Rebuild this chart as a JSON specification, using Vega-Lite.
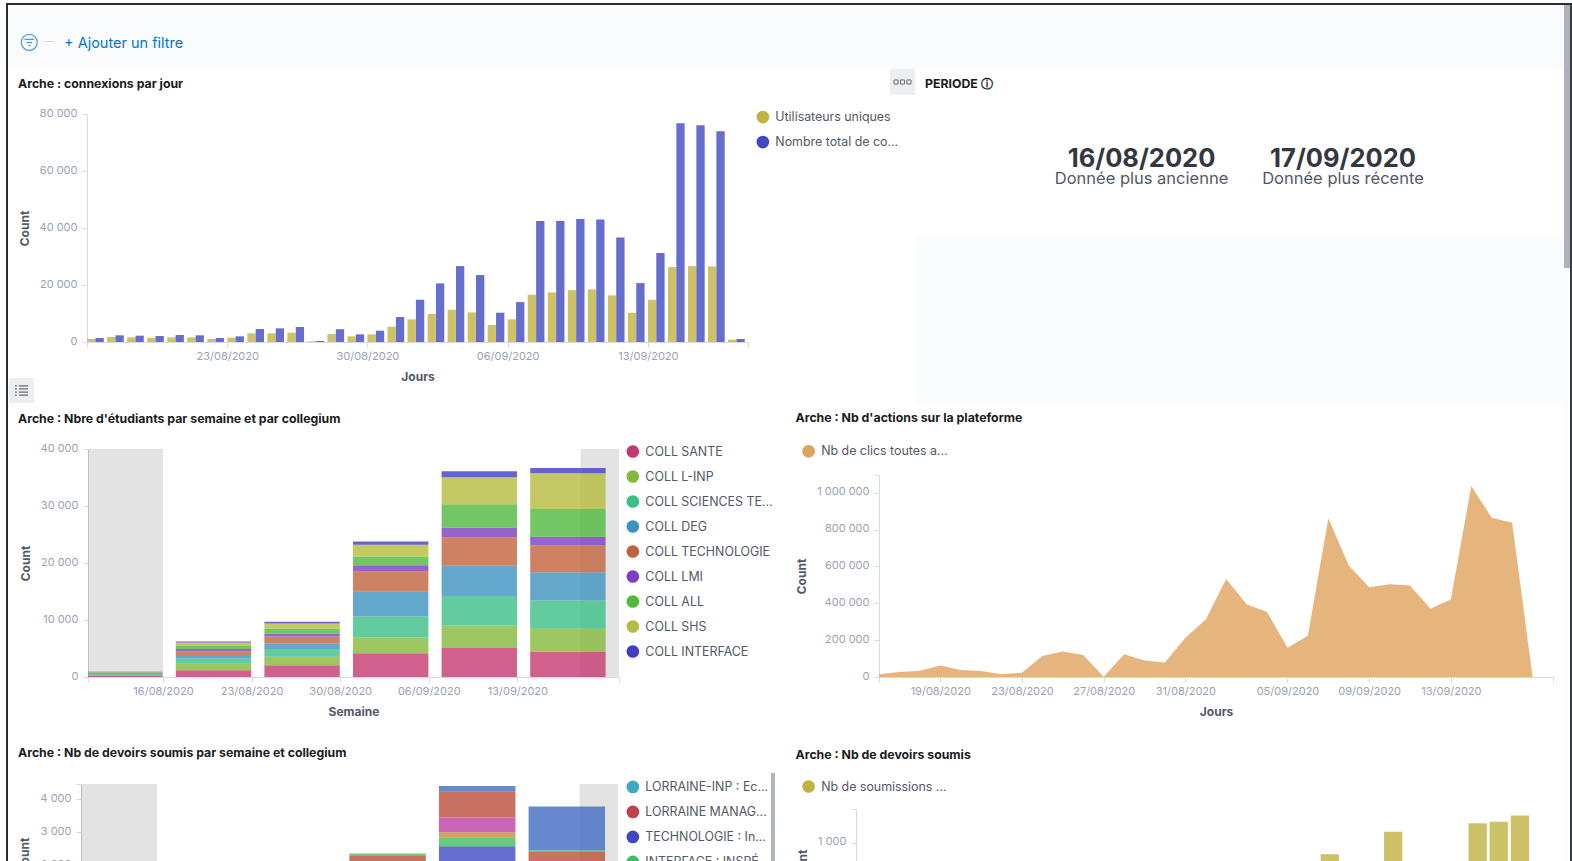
{
"$schema":"https://vega.github.io/schema/vega-lite/v6.json",
"background":"white","padding":0,"autosize":{"type":"pad"},"bounds":"flush","spacing":0,
"resolve":{"scale":{"color":"independent"},"legend":{"color":"independent"}},
"config":{"font":"Inter","view":{"stroke":null},
"title":{"fontSize":12.3,"fontWeight":"bold","color":"#1a1c21","anchor":"start","frame":"group","baseline":"bottom"},
"axis":{"grid":false,"labelColor":"#98a2b3","labelFontSize":11,"labelFont":"Inter","titleColor":"#535966","titleFontSize":12,"titleFontWeight":"bold","domainColor":"#d3dae6","tickColor":"#d3dae6","tickSize":5,"labelPadding":5,"labelOverlap":false,"labelBound":false},
"axisX":{"labelPadding":3,"titlePadding":10},
"axisY":{"titlePadding":8,"labelOffset":-1},
"legend":{"orient":"none","title":null,"symbolType":"circle","symbolSize":161,"symbolOpacity":1,"symbolStrokeWidth":0,"labelFontSize":12.4,"labelColor":"#535966","labelLimit":300,"rowPadding":12,"labelOffset":6,"padding":0}},
"datasets":{
"connexions":[
{"jour":"2020-08-16","serie":"Utilisateurs uniques","n":1050},{"jour":"2020-08-16","serie":"Nombre total de co...","n":1400},
{"jour":"2020-08-17","serie":"Utilisateurs uniques","n":1750},{"jour":"2020-08-17","serie":"Nombre total de co...","n":2340},
{"jour":"2020-08-18","serie":"Utilisateurs uniques","n":1635},{"jour":"2020-08-18","serie":"Nombre total de co...","n":2220},
{"jour":"2020-08-19","serie":"Utilisateurs uniques","n":1520},{"jour":"2020-08-19","serie":"Nombre total de co...","n":2100},
{"jour":"2020-08-20","serie":"Utilisateurs uniques","n":1635},{"jour":"2020-08-20","serie":"Nombre total de co...","n":2450},
{"jour":"2020-08-21","serie":"Utilisateurs uniques","n":1635},{"jour":"2020-08-21","serie":"Nombre total de co...","n":2340},
{"jour":"2020-08-22","serie":"Utilisateurs uniques","n":1050},{"jour":"2020-08-22","serie":"Nombre total de co...","n":1400},
{"jour":"2020-08-23","serie":"Utilisateurs uniques","n":1520},{"jour":"2020-08-23","serie":"Nombre total de co...","n":1990},
{"jour":"2020-08-24","serie":"Utilisateurs uniques","n":3040},{"jour":"2020-08-24","serie":"Nombre total de co...","n":4550},
{"jour":"2020-08-25","serie":"Utilisateurs uniques","n":3040},{"jour":"2020-08-25","serie":"Nombre total de co...","n":4790},
{"jour":"2020-08-26","serie":"Utilisateurs uniques","n":3270},{"jour":"2020-08-26","serie":"Nombre total de co...","n":5260},
{"jour":"2020-08-27","serie":"Utilisateurs uniques","n":230},{"jour":"2020-08-27","serie":"Nombre total de co...","n":350},
{"jour":"2020-08-28","serie":"Utilisateurs uniques","n":2800},{"jour":"2020-08-28","serie":"Nombre total de co...","n":4440},
{"jour":"2020-08-29","serie":"Utilisateurs uniques","n":1990},{"jour":"2020-08-29","serie":"Nombre total de co...","n":2690},
{"jour":"2020-08-30","serie":"Utilisateurs uniques","n":2690},{"jour":"2020-08-30","serie":"Nombre total de co...","n":3970},
{"jour":"2020-08-31","serie":"Utilisateurs uniques","n":5370},{"jour":"2020-08-31","serie":"Nombre total de co...","n":8760},
{"jour":"2020-09-01","serie":"Utilisateurs uniques","n":7940},{"jour":"2020-09-01","serie":"Nombre total de co...","n":14830},
{"jour":"2020-09-02","serie":"Utilisateurs uniques","n":9810},{"jour":"2020-09-02","serie":"Nombre total de co...","n":20560},
{"jour":"2020-09-03","serie":"Utilisateurs uniques","n":11330},{"jour":"2020-09-03","serie":"Nombre total de co...","n":26630},
{"jour":"2020-09-04","serie":"Utilisateurs uniques","n":10400},{"jour":"2020-09-04","serie":"Nombre total de co...","n":23480},
{"jour":"2020-09-05","serie":"Utilisateurs uniques","n":5960},{"jour":"2020-09-05","serie":"Nombre total de co...","n":10280},
{"jour":"2020-09-06","serie":"Utilisateurs uniques","n":7940},{"jour":"2020-09-06","serie":"Nombre total de co...","n":14000},
{"jour":"2020-09-07","serie":"Utilisateurs uniques","n":16590},{"jour":"2020-09-07","serie":"Nombre total de co...","n":42500},
{"jour":"2020-09-08","serie":"Utilisateurs uniques","n":17400},{"jour":"2020-09-08","serie":"Nombre total de co...","n":42500},
{"jour":"2020-09-09","serie":"Utilisateurs uniques","n":18220},{"jour":"2020-09-09","serie":"Nombre total de co...","n":43200},
{"jour":"2020-09-10","serie":"Utilisateurs uniques","n":18450},{"jour":"2020-09-10","serie":"Nombre total de co...","n":43000},
{"jour":"2020-09-11","serie":"Utilisateurs uniques","n":16350},{"jour":"2020-09-11","serie":"Nombre total de co...","n":36700},
{"jour":"2020-09-12","serie":"Utilisateurs uniques","n":10280},{"jour":"2020-09-12","serie":"Nombre total de co...","n":20670},
{"jour":"2020-09-13","serie":"Utilisateurs uniques","n":14830},{"jour":"2020-09-13","serie":"Nombre total de co...","n":31190},
{"jour":"2020-09-14","serie":"Utilisateurs uniques","n":26280},{"jour":"2020-09-14","serie":"Nombre total de co...","n":76740},
{"jour":"2020-09-15","serie":"Utilisateurs uniques","n":26630},{"jour":"2020-09-15","serie":"Nombre total de co...","n":76040},
{"jour":"2020-09-16","serie":"Utilisateurs uniques","n":26510},{"jour":"2020-09-16","serie":"Nombre total de co...","n":73930},
{"jour":"2020-09-17","serie":"Utilisateurs uniques","n":820},{"jour":"2020-09-17","serie":"Nombre total de co...","n":1050}],
"etudiants":[
{"s":"2020-08-09","c":"COLL SANTE","o":1,"n":234},{"s":"2020-08-09","c":"COLL L-INP","o":2,"n":117},{"s":"2020-08-09","c":"COLL SCIENCES TE...","o":3,"n":117},{"s":"2020-08-09","c":"COLL DEG","o":4,"n":100},{"s":"2020-08-09","c":"COLL TECHNOLOGIE","o":5,"n":120},{"s":"2020-08-09","c":"COLL LMI","o":6,"n":50},{"s":"2020-08-09","c":"COLL ALL","o":7,"n":100},{"s":"2020-08-09","c":"COLL SHS","o":8,"n":60},{"s":"2020-08-09","c":"COLL INTERFACE","o":9,"n":30},
{"s":"2020-08-16","c":"COLL SANTE","o":1,"n":1168},{"s":"2020-08-16","c":"COLL L-INP","o":2,"n":1168},{"s":"2020-08-16","c":"COLL SCIENCES TE...","o":3,"n":876},{"s":"2020-08-16","c":"COLL DEG","o":4,"n":467},{"s":"2020-08-16","c":"COLL TECHNOLOGIE","o":5,"n":818},{"s":"2020-08-16","c":"COLL LMI","o":6,"n":409},{"s":"2020-08-16","c":"COLL ALL","o":7,"n":526},{"s":"2020-08-16","c":"COLL SHS","o":8,"n":642},{"s":"2020-08-16","c":"COLL INTERFACE","o":9,"n":175},
{"s":"2020-08-23","c":"COLL SANTE","o":1,"n":2044},{"s":"2020-08-23","c":"COLL L-INP","o":2,"n":1518},{"s":"2020-08-23","c":"COLL SCIENCES TE...","o":3,"n":1343},{"s":"2020-08-23","c":"COLL DEG","o":4,"n":993},{"s":"2020-08-23","c":"COLL TECHNOLOGIE","o":5,"n":1226},{"s":"2020-08-23","c":"COLL LMI","o":6,"n":467},{"s":"2020-08-23","c":"COLL ALL","o":7,"n":876},{"s":"2020-08-23","c":"COLL SHS","o":8,"n":934},{"s":"2020-08-23","c":"COLL INTERFACE","o":9,"n":292},
{"s":"2020-08-30","c":"COLL SANTE","o":1,"n":4146},{"s":"2020-08-30","c":"COLL L-INP","o":2,"n":2803},{"s":"2020-08-30","c":"COLL SCIENCES TE...","o":3,"n":3679},{"s":"2020-08-30","c":"COLL DEG","o":4,"n":4321},{"s":"2020-08-30","c":"COLL TECHNOLOGIE","o":5,"n":3621},{"s":"2020-08-30","c":"COLL LMI","o":6,"n":1051},{"s":"2020-08-30","c":"COLL ALL","o":7,"n":1460},{"s":"2020-08-30","c":"COLL SHS","o":8,"n":2102},{"s":"2020-08-30","c":"COLL INTERFACE","o":9,"n":584},
{"s":"2020-09-06","c":"COLL SANTE","o":1,"n":5081},{"s":"2020-09-06","c":"COLL L-INP","o":2,"n":3971},{"s":"2020-09-06","c":"COLL SCIENCES TE...","o":3,"n":5139},{"s":"2020-09-06","c":"COLL DEG","o":4,"n":5314},{"s":"2020-09-06","c":"COLL TECHNOLOGIE","o":5,"n":5022},{"s":"2020-09-06","c":"COLL LMI","o":6,"n":1694},{"s":"2020-09-06","c":"COLL ALL","o":7,"n":4088},{"s":"2020-09-06","c":"COLL SHS","o":8,"n":4730},{"s":"2020-09-06","c":"COLL INTERFACE","o":9,"n":1051},
{"s":"2020-09-13","c":"COLL SANTE","o":1,"n":4438},{"s":"2020-09-13","c":"COLL L-INP","o":2,"n":4030},{"s":"2020-09-13","c":"COLL SCIENCES TE...","o":3,"n":4964},{"s":"2020-09-13","c":"COLL DEG","o":4,"n":4964},{"s":"2020-09-13","c":"COLL TECHNOLOGIE","o":5,"n":4730},{"s":"2020-09-13","c":"COLL LMI","o":6,"n":1460},{"s":"2020-09-13","c":"COLL ALL","o":7,"n":4906},{"s":"2020-09-13","c":"COLL SHS","o":8,"n":6249},{"s":"2020-09-13","c":"COLL INTERFACE","o":9,"n":935}],
"actions":[
{"j":"2020-08-16","n":15000},{"j":"2020-08-17","n":27000},{"j":"2020-08-18","n":34000},{"j":"2020-08-19","n":63000},{"j":"2020-08-20","n":38000},{"j":"2020-08-21","n":32000},{"j":"2020-08-22","n":15000},{"j":"2020-08-23","n":23000},{"j":"2020-08-24","n":114000},{"j":"2020-08-25","n":139000},{"j":"2020-08-26","n":119000},{"j":"2020-08-27","n":2000},{"j":"2020-08-28","n":123000},{"j":"2020-08-29","n":90000},{"j":"2020-08-30","n":79000},{"j":"2020-08-31","n":213000},{"j":"2020-09-01","n":312000},{"j":"2020-09-02","n":532000},{"j":"2020-09-03","n":395000},{"j":"2020-09-04","n":352000},{"j":"2020-09-05","n":159000},{"j":"2020-09-06","n":224000},{"j":"2020-09-07","n":862000},{"j":"2020-09-08","n":605000},{"j":"2020-09-09","n":487000},{"j":"2020-09-10","n":503000},{"j":"2020-09-11","n":496000},{"j":"2020-09-12","n":370000},{"j":"2020-09-13","n":422000},{"j":"2020-09-14","n":1036000},{"j":"2020-09-15","n":864000},{"j":"2020-09-16","n":837000},{"j":"2020-09-17","n":0}],
"devoirs":[
{"s":"2020-08-30","c":"Série E","o":1,"n":2276},{"s":"2020-08-30","c":"INTERFACE : INSPÉ...","o":2,"n":71},
{"s":"2020-09-06","c":"TECHNOLOGIE : In...","o":1,"n":2571},{"s":"2020-09-06","c":"INTERFACE : INSPÉ...","o":2,"n":256},{"s":"2020-09-06","c":"Série C","o":3,"n":173},{"s":"2020-09-06","c":"Série D","o":4,"n":449},{"s":"2020-09-06","c":"Série E","o":5,"n":786},{"s":"2020-09-06","c":"Série F","o":6,"n":173},
{"s":"2020-09-13","c":"Série E","o":1,"n":2398},{"s":"2020-09-13","c":"INTERFACE : INSPÉ...","o":2,"n":51},{"s":"2020-09-13","c":"Série F","o":3,"n":1337}],
"soumis":[{"j":"2020-09-07","n":931},{"j":"2020-09-10","n":1065},{"j":"2020-09-14","n":1115},{"j":"2020-09-15","n":1124},{"j":"2020-09-16","n":1160}],
"hors2":[{"a":"2020-08-10T01:48:00Z","b":"2020-08-16"},{"a":"2020-09-18","b":"2020-09-21T00:40:00Z"}],
"hors4":[{"a":"2020-08-10T01:27:00Z","b":"2020-08-16"},{"a":"2020-09-18","b":"2020-09-21T00:15:00Z"}],
"periode":[{"m":"ancienne","r":"valeur","t":"16/08/2020"},{"m":"ancienne","r":"libelle","t":"Donnée plus ancienne"},{"m":"recente","r":"valeur","t":"17/09/2020"},{"m":"recente","r":"libelle","t":"Donnée plus récente"}],
"un":[{"k":1}]
},
"vconcat":[
{"width":1572,"height":3,"data":{"name":"un"},"mark":{"type":"rect","opacity":0},"encoding":{}},
{"bounds":"flush","spacing":0,"hconcat":[
 {"width":6,"height":2,"data":{"name":"un"},"mark":{"type":"rect","opacity":0},"encoding":{}},
 {"width":1566,"height":2,"view":{"fill":"#2b2d33"},"data":{"name":"un"},"mark":{"type":"rect","opacity":0},"encoding":{}}]},
{"width":1,"height":2,"data":{"name":"un"},"mark":{"type":"rect","opacity":0},"encoding":{}},
{"bounds":"flush","spacing":0,"hconcat":[
 {"width":6,"height":2,"data":{"name":"un"},"mark":{"type":"rect","opacity":0},"encoding":{}},
 {"width":2,"height":856,"view":{"fill":"#2b2d33"},"data":{"name":"un"},"mark":{"type":"rect","opacity":0},"encoding":{}},
 {"width":1556,"height":64,"view":{"fill":"#fafbfd"},"data":{"values":[{"item":"filtre"},{"item":"ajouter"}]},
  "layer":[
   {"transform":[{"filter":"datum.item=='filtre'"}],"mark":{"type":"point","yOffset":5.3,"filled":false,"size":1024,"strokeWidth":1.2,"color":"#0077cc","shape":"M-0.5,0a0.5,0.5 0 1,0 1,0a0.5,0.5 0 1,0 -1,0Z M-0.3,-0.18L0.3,-0.18 M-0.18,0.02L0.18,0.02 M-0.08,0.2L0.08,0.2"},"encoding":{"x":{"field":"item","type":"nominal","axis":null,"scale":{"domain":["filtre","ajouter"],"range":[21.3,115.6],"padding":0}}}},
   {"transform":[{"filter":"datum.item=='filtre'"}],"mark":{"type":"text","text":"—","dy":5.3,"dx":20,"fontSize":10,"color":"#d3dae6"},"encoding":{"x":{"field":"item","type":"nominal","axis":null,"scale":{"domain":["filtre","ajouter"],"range":[21.3,115.6],"padding":0}}}},
   {"transform":[{"filter":"datum.item=='ajouter'"}],"mark":{"type":"text","text":"+ Ajouter un filtre","dy":7,"fontSize":14.5,"color":"#0077cc"},"encoding":{"x":{"field":"item","type":"nominal","axis":null,"scale":{"domain":["filtre","ajouter"],"range":[21.3,115.6],"padding":0}}}}]},
 {"width":6,"height":263,"view":{"fill":"#aeb3ba"},"data":{"name":"un"},"mark":{"type":"rect","opacity":0},"encoding":{}},
 {"width":2,"height":856,"view":{"fill":"#3a3c42"},"data":{"name":"un"},"mark":{"type":"rect","opacity":0},"encoding":{}}]},
{"width":1,"height":64,"data":{"name":"un"},"mark":{"type":"rect","opacity":0},"encoding":{}},
{"bounds":"flush","spacing":0,"hconcat":[
 {"width":890,"height":2,"data":{"name":"un"},"mark":{"type":"rect","opacity":0},"encoding":{}},
 {"width":25,"height":26,"view":{"fill":"#eceef1"},"data":{"name":"un"},"mark":{"type":"point","filled":false,"size":1156,"strokeWidth":1,"color":"#343741","shape":"M-0.5,-0.12h0.24v0.24h-0.24Z M-0.12,-0.12h0.24v0.24h-0.24Z M0.26,-0.12h0.24v0.24h-0.24Z"},"encoding":{}},
 {"width":649,"height":167,"view":{"fill":"white"},"data":{"name":"periode"},
  "title":{"text":"PERIODE ⓘ","dx":10,"offset":-21.5},
  "layer":[
   {"transform":[{"filter":"datum.r=='valeur'"}],"mark":{"type":"text","fontSize":25.5,"fontWeight":"bold","color":"#343741"},"encoding":{"text":{"field":"t"},"x":{"field":"m","type":"nominal","axis":null,"scale":{"domain":["ancienne","recente"],"range":[226.5,428],"padding":0}},"y":{"field":"r","type":"nominal","axis":null,"scale":{"domain":["valeur","libelle"],"range":[90,110],"padding":0}}}},
   {"transform":[{"filter":"datum.r=='libelle'"}],"mark":{"type":"text","fontSize":16.5,"color":"#535966"},"encoding":{"text":{"field":"t"},"x":{"field":"m","type":"nominal","axis":null,"scale":{"domain":["ancienne","recente"],"range":[226.5,428],"padding":0}},"y":{"field":"r","type":"nominal","axis":null,"scale":{"domain":["valeur","libelle"],"range":[90,110],"padding":0}}}}]}]},
{"width":1,"height":45,"data":{"name":"un"},"mark":{"type":"rect","opacity":0},"encoding":{}},
{"bounds":"flush","spacing":0,"resolve":{"scale":{"color":"independent"},"legend":{"color":"independent"}},"hconcat":[
 {"width":87,"height":2,"data":{"name":"un"},"mark":{"type":"rect","opacity":0},"encoding":{}},
 {"width":661,"height":228,"data":{"name":"connexions"},
  "title":{"text":"Arche : connexions par jour","dx":-69,"offset":17},
  "layer":[
   {"transform":[{"filter":"datum.serie=='Utilisateurs uniques'"}],"mark":{"type":"bar","width":8.3,"xOffset":4.2,"opacity":0.8},
    "encoding":{"x":{"field":"jour","type":"temporal","title":"Jours","scale":{"type":"utc","nice":false,"padding":0,"domain":["2020-08-16","2020-09-18"]},"axis":{"format":"%d/%m/%Y","values":["2020-08-16","2020-08-23","2020-08-30","2020-09-06","2020-09-13","2020-09-18"],"labelExpr":"datum.index>0&&datum.index<1?datum.label:''"}},
    "y":{"field":"n","type":"quantitative","stack":null,"title":"Count","scale":{"nice":false,"domain":[0,80000]},"axis":{"values":[0,20000,40000,60000,80000],"labelExpr":"replace(format(datum.value,','),/,/g,' ')"}},
    "color":{"field":"serie","type":"nominal","scale":{"domain":["Utilisateurs uniques","Nombre total de co..."],"range":["#c0b440","#3f48c0"]},"legend":{"legendX":669.35,"legendY":-3.4}}}},
   {"transform":[{"filter":"datum.serie!='Utilisateurs uniques'"}],"mark":{"type":"bar","width":8.3,"xOffset":12.6,"opacity":0.8},
    "encoding":{"x":{"field":"jour","type":"temporal"},"y":{"field":"n","type":"quantitative","stack":null},"color":{"field":"serie","type":"nominal"}}}]}]},
{"width":1,"height":122,"data":{"name":"un"},"mark":{"type":"rect","opacity":0},"encoding":{}},
{"bounds":"flush","spacing":0,"hconcat":[
 {"width":915,"height":2,"data":{"name":"un"},"mark":{"type":"rect","opacity":0},"encoding":{}},
 {"width":649,"height":167,"view":{"fill":"#fafbfd"},"data":{"name":"un"},"mark":{"type":"rect","opacity":0},"encoding":{}}]},
{"width":1,"height":32,"data":{"name":"un"},"mark":{"type":"rect","opacity":0},"encoding":{}},
{"bounds":"flush","spacing":0,"hconcat":[
 {"width":1564,"height":2,"data":{"name":"un"},"mark":{"type":"rect","opacity":0},"encoding":{}},
 {"width":6,"height":593,"view":{"fill":"#fafbfd"},"data":{"name":"un"},"mark":{"type":"rect","opacity":0},"encoding":{}}]},
{"width":1,"height":110,"data":{"name":"un"},"mark":{"type":"rect","opacity":0},"encoding":{}},
{"bounds":"flush","spacing":0,"hconcat":[
 {"width":9,"height":2,"data":{"name":"un"},"mark":{"type":"rect","opacity":0},"encoding":{}},
 {"width":25,"height":25,"view":{"fill":"#eceef1"},"data":{"name":"un"},"mark":{"type":"point","filled":false,"size":676,"strokeWidth":1.2,"color":"#343741","shape":"M-0.2,-0.36H0.5 M-0.2,-0.12H0.5 M-0.2,0.12H0.5 M-0.2,0.36H0.5 M-0.5,-0.36H-0.36 M-0.5,-0.12H-0.36 M-0.5,0.12H-0.36 M-0.5,0.36H-0.36"},"encoding":{}}]},
{"width":1,"height":71,"data":{"name":"un"},"mark":{"type":"rect","opacity":0},"encoding":{}},
{"bounds":"flush","spacing":0,"resolve":{"scale":{"color":"independent"},"legend":{"color":"independent"}},"hconcat":[
 {"width":88,"height":2,"data":{"name":"un"},"mark":{"type":"rect","opacity":0},"encoding":{}},
 {"width":531,"height":228,
  "title":{"text":"Arche : Nbre d'étudiants par semaine et par collegium","dx":-70,"offset":17},
  "layer":[
   {"data":{"name":"hors2"},"mark":{"type":"rect","color":"#000000","opacity":0.11},"encoding":{"x":{"field":"a","type":"temporal","title":"Semaine","scale":{"type":"utc","nice":false,"padding":0,"domain":["2020-08-10T01:48:00Z","2020-09-21T00:40:00Z"]},"axis":{"format":"%d/%m/%Y","values":["2020-08-10T01:48:00Z","2020-08-16","2020-08-23","2020-08-30","2020-09-06","2020-09-13","2020-09-21T00:40:00Z"],"labelExpr":"datum.index>0&&datum.index<1?datum.label:''"}},"x2":{"field":"b"}}},
   {"data":{"name":"etudiants"},"mark":{"type":"bar","width":75.4,"xOffset":50.5,"opacity":0.8,"clip":true},
    "encoding":{"x":{"field":"s","type":"temporal"},
    "y":{"field":"n","type":"quantitative","title":"Count","scale":{"nice":false,"domain":[0,40000]},"axis":{"values":[0,10000,20000,30000,40000],"labelExpr":"replace(format(datum.value,','),/,/g,' ')"}},
    "order":{"field":"o","type":"quantitative"},
    "color":{"field":"c","type":"nominal","scale":{"domain":["COLL SANTE","COLL L-INP","COLL SCIENCES TE...","COLL DEG","COLL TECHNOLOGIE","COLL LMI","COLL ALL","COLL SHS","COLL INTERFACE"],"range":["#c4396f","#84b93a","#3bbf86","#3d94bf","#c0633c","#7b3fbf","#4fb83d","#b5bb3d","#3f3fc0"]},"legend":{"legendX":538.35,"legendY":-4}}}}]}]},
{"width":1,"height":26,"data":{"name":"un"},"mark":{"type":"rect","opacity":0},"encoding":{}},
{"bounds":"flush","spacing":0,"resolve":{"scale":{"color":"independent"},"legend":{"color":"independent"}},"hconcat":[
 {"width":879,"height":2,"data":{"name":"un"},"mark":{"type":"rect","opacity":0},"encoding":{}},
 {"width":674,"height":202,"data":{"name":"actions"},
  "title":{"text":"Arche : Nb d'actions sur la plateforme","dx":-83.5,"offset":21},
  "mark":{"type":"area","color":"#d99e55","opacity":0.8,"line":false},
  "encoding":{"x":{"field":"j","type":"temporal","title":"Jours","scale":{"type":"utc","nice":false,"domain":["2020-08-16","2020-09-18"]},"axis":{"format":"%d/%m/%Y","values":["2020-08-16","2020-08-19","2020-08-23","2020-08-27","2020-08-31","2020-09-05","2020-09-09","2020-09-13","2020-09-18"],"labelExpr":"datum.index>0&&datum.index<1?datum.label:''"}},
  "y":{"field":"n","type":"quantitative","title":"Count","scale":{"nice":false,"domain":[0,1096000]},"axis":{"values":[0,200000,400000,600000,800000,1000000,1096000],"labelExpr":"datum.value>1000000?'':replace(format(datum.value,','),/,/g,' ')"}},
  "color":{"datum":"Nb de clics toutes a...","scale":{"domain":["Nb de clics toutes a..."],"range":["#dea25c"]},"legend":{"legendX":-76.85,"legendY":-30.2}}}}]},
{"width":1,"height":298,"data":{"name":"un"},"mark":{"type":"rect","opacity":0},"encoding":{}},
{"bounds":"flush","spacing":0,"hconcat":[
 {"width":771,"height":2,"data":{"name":"un"},"mark":{"type":"rect","opacity":0},"encoding":{}},
 {"width":4,"height":88,"view":{"fill":"#b0b4bb"},"data":{"name":"un"},"mark":{"type":"rect","opacity":0},"encoding":{}}]},
{"width":1,"height":11,"data":{"name":"un"},"mark":{"type":"rect","opacity":0},"encoding":{}},
{"bounds":"flush","spacing":0,"resolve":{"scale":{"color":"independent"},"legend":{"color":"independent"}},"hconcat":[
 {"width":81,"height":2,"data":{"name":"un"},"mark":{"type":"rect","opacity":0},"encoding":{}},
 {"width":537,"height":81,
  "title":{"text":"Arche : Nb de devoirs soumis par semaine et collegium","dx":-63,"offset":18},
  "layer":[
   {"data":{"name":"hors4"},"mark":{"type":"rect","color":"#000000","opacity":0.11},"encoding":{"x":{"field":"a","type":"temporal","axis":null,"scale":{"type":"utc","nice":false,"padding":0,"domain":["2020-08-10T01:27:00Z","2020-09-21T00:15:00Z"]}},"x2":{"field":"b"}}},
   {"data":{"name":"devoirs"},"mark":{"type":"bar","width":76.5,"xOffset":51.35,"opacity":0.8,"clip":true},
    "encoding":{"x":{"field":"s","type":"temporal"},
    "y":{"field":"n","type":"quantitative","title":"Count","scale":{"nice":false,"domain":[2000,4468]},"axis":{"values":[2000,3000,4000,4468],"titleY":71,"labelExpr":"datum.value>4000?'':replace(format(datum.value,','),/,/g,' ')"}},
    "order":{"field":"o","type":"quantitative"},
    "color":{"field":"c","type":"nominal","scale":{"domain":["LORRAINE-INP : Ec...","LORRAINE MANAG...","TECHNOLOGIE : In...","INTERFACE : INSPÉ...","Série C","Série D","Série E","Série F"],"range":["#3fa9bf","#bf3f4a","#3f48c0","#3fbf5b","#bf8f3f","#bf3fa6","#bb4f3b","#3f6bbf"]},"legend":{"legendX":545.35,"legendY":-3.6,"values":["LORRAINE-INP : Ec...","LORRAINE MANAG...","TECHNOLOGIE : In...","INTERFACE : INSPÉ..."]}}}}]}]},
{"width":1,"height":25,"data":{"name":"un"},"mark":{"type":"rect","opacity":0},"encoding":{}},
{"bounds":"flush","spacing":0,"resolve":{"scale":{"color":"independent"},"legend":{"color":"independent"}},"hconcat":[
 {"width":856,"height":2,"data":{"name":"un"},"mark":{"type":"rect","opacity":0},"encoding":{}},
 {"width":697,"height":56,"data":{"name":"soumis"},
  "title":{"text":"Arche : Nb de devoirs soumis","dx":-60.5,"offset":18.5},
  "mark":{"type":"bar","width":18.3,"xOffset":9.15,"opacity":0.8,"clip":true},
  "encoding":{"x":{"field":"j","type":"temporal","axis":null,"scale":{"type":"utc","nice":false,"padding":0,"domain":["2020-08-16","2020-09-18"]}},
  "y":{"field":"n","type":"quantitative","title":"Count","scale":{"nice":false,"domain":[868,1199]},"axis":{"values":[1000,1199],"titleY":58,"labelExpr":"datum.value>1000?'':replace(format(datum.value,','),/,/g,' ')"}},
  "color":{"datum":"Nb de soumissions ...","scale":{"domain":["Nb de soumissions ..."],"range":["#c0b440"]},"legend":{"legendX":-53.85,"legendY":-29}}}}]}
]
}
